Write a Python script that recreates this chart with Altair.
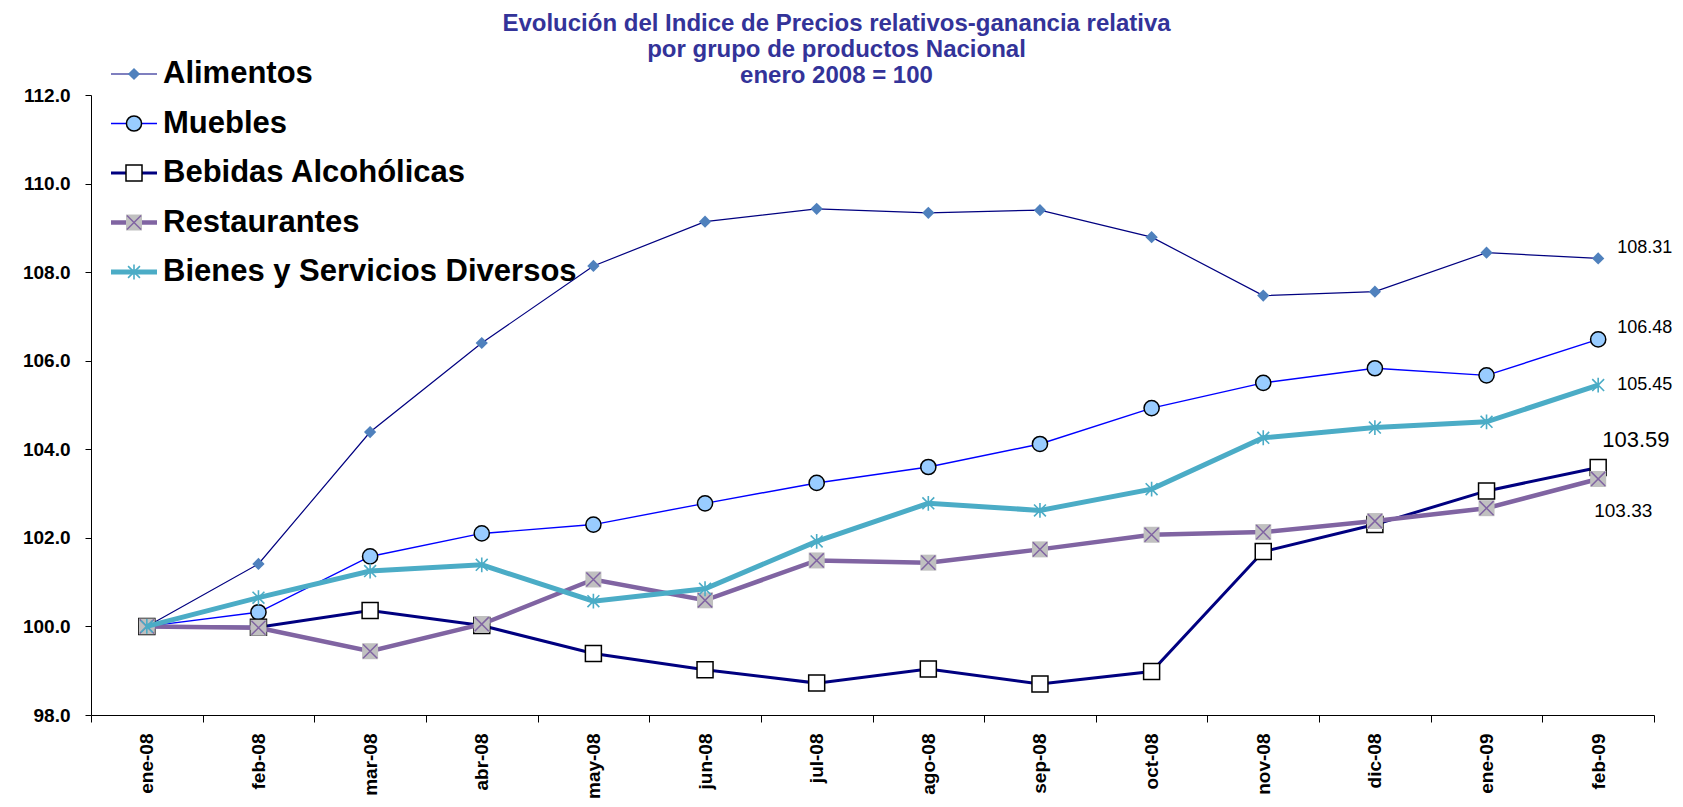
import altair as alt
import pandas as pd

months = ["ene-08", "feb-08", "mar-08", "abr-08", "may-08", "jun-08", "jul-08",
          "ago-08", "sep-08", "oct-08", "nov-08", "dic-08", "ene-09", "feb-09"]
series_names = ["Alimentos", "Muebles", "Bebidas Alcohólicas", "Restaurantes",
                "Bienes y Servicios Diversos"]

alimentos = [100.0, 101.41, 104.39, 106.40, 108.14, 109.14, 109.43, 109.34, 109.40,
             108.79, 107.47, 107.56, 108.44, 108.31]
muebles = [100.0, 100.32, 101.58, 102.10, 102.30, 102.78, 103.24, 103.60, 104.12,
           104.93, 105.50, 105.83, 105.67, 106.48]
bebidas = [100.0, 99.98, 100.36, 100.02, 99.39, 99.02, 98.72, 99.04, 98.70,
           98.98, 101.69, 102.30, 103.06, 103.59]
restaurantes = [100.0, 99.97, 99.44, 100.05, 101.06, 100.59, 101.49, 101.44, 101.74,
                102.07, 102.13, 102.38, 102.67, 103.33]
bienes = [100.0, 100.65, 101.25, 101.39, 100.57, 100.85, 101.92, 102.78, 102.62,
          103.10, 104.26, 104.49, 104.62, 105.45]

y_ticks = [98, 100, 102, 104, 106, 108, 110, 112]

all_values = [alimentos, muebles, bebidas, restaurantes, bienes]
rows = []
for s, vals in zip(series_names, all_values):
    for m, v in zip(months, vals):
        rows.append({"month": m, "series": s, "value": v})
df = pd.DataFrame(rows)
leg_df = pd.DataFrame({"series": series_names})

FONT = "Liberation Sans"
ASTER = "M0,-1L0,1M-0.8,-0.8L0.8,0.8M-0.8,0.8L0.8,-0.8"
XMARK = "M-1,-1L1,1M-1,1L1,-1"

styles = {
    "Alimentos": dict(line="#000080", lw=1.2,
                      marks=[dict(shape="diamond", size=150, filled=True, fill="#4F81BD", strokeWidth=0)],
                      lab=dict(dx=19, dy=-10, fs=18)),
    "Muebles": dict(line="#0000FF", lw=1.4,
                    marks=[dict(shape="circle", size=230, filled=True, fill="#99CCFF", stroke="black", strokeWidth=1.5)],
                    lab=dict(dx=19, dy=-11, fs=18)),
    "Bebidas Alcohólicas": dict(line="#000080", lw=3,
                                marks=[dict(shape="square", size=256, filled=True, fill="white", stroke="black", strokeWidth=1.5)],
                                lab=dict(dx=4, dy=-27, fs=22)),
    "Restaurantes": dict(line="#8064A2", lw=4.5,
                         marks=[dict(shape="square", size=256, filled=True, fill="#C0C0C0", strokeWidth=0),
                                dict(shape=XMARK, size=200, filled=False, stroke="#8064A2", strokeWidth=1.5)],
                         lab=dict(dx=-4, dy=32, fs=19)),
    "Bienes y Servicios Diversos": dict(line="#4BACC6", lw=5,
                                        marks=[dict(shape=ASTER, size=220, filled=False, stroke="#4BACC6", strokeWidth=1.6)],
                                        lab=dict(dx=19, dy=0, fs=18)),
}

X = alt.X("month:N", sort=months, bandPosition=0.5,
          scale=alt.Scale(type="band", domain=months, paddingInner=0, paddingOuter=0),
          axis=alt.Axis(title=None, labelAngle=270, tickBand="extent", tickSize=7,
                        labelPadding=11, labelFontSize=19, labelFontWeight="bold",
                        labelFont=FONT, labelColor="black", domainColor="black",
                        tickColor="black", grid=False))
Y = alt.Y("value:Q",
          scale=alt.Scale(domain=[98, 112], nice=False, zero=False),
          axis=alt.Axis(title=None, values=y_ticks, format=".1f", tickSize=6,
                        labelPadding=15, labelFontSize=19, labelFontWeight="bold",
                        labelFont=FONT, labelColor="black", domainColor="black",
                        tickColor="black", grid=False))

base = alt.Chart(df)
data_layers = []
for s in series_names:
    st = styles[s]
    sub = base.transform_filter(alt.datum.series == s)
    data_layers.append(sub.mark_line(color=st["line"], strokeWidth=st["lw"]).encode(x=X, y=Y))
    for mk in st["marks"]:
        data_layers.append(sub.mark_point(opacity=1, **mk).encode(x=X, y=Y))
for s in series_names:
    lab = styles[s]["lab"]
    data_layers.append(
        base.transform_filter((alt.datum.series == s) & (alt.datum.month == months[-1]))
        .mark_text(align="left", baseline="middle", dx=lab["dx"], dy=lab["dy"],
                   fontSize=lab["fs"], font=FONT, color="black")
        .encode(x=X, y=Y, text=alt.Text("value:Q", format=".2f"))
    )
main = alt.layer(*data_layers)

LY = alt.Y("series:N", sort=series_names, axis=None,
           scale=alt.Scale(type="point", domain=series_names, range=[-21, 177], padding=0))
leg_base = alt.Chart(leg_df)
legend_layers = []
for s in series_names:
    st = styles[s]
    sub = leg_base.transform_filter(alt.datum.series == s)
    legend_layers.append(sub.mark_rule(color=st["line"], strokeWidth=st["lw"])
                         .encode(x=alt.value(20), x2=alt.value(66), y=LY))
    for mk in st["marks"]:
        legend_layers.append(sub.mark_point(opacity=1, **mk).encode(x=alt.value(43), y=LY))
legend_layers.append(
    leg_base.mark_text(align="left", baseline="middle", fontSize=31, fontWeight="bold",
                       font=FONT, color="black")
    .encode(x=alt.value(72), y=LY, text="series:N")
)
legend = alt.layer(*legend_layers)

chart = (
    alt.layer(main, legend)
    .resolve_scale(y="independent")
    .properties(
        width=1563, height=620,
        autosize=alt.AutoSizeParams(type="none"),
        padding={"left": 83, "top": 87, "right": 20, "bottom": 84},
        title=alt.TitleParams(
            ["Evolución del Indice de Precios relativos-ganancia relativa",
             "por grupo de productos Nacional", "enero 2008 = 100"],
            fontSize=24, fontWeight="bold", color="#333399", font=FONT,
            anchor="middle", frame="group", dx=-36, dy=42, offset=12, lineHeight=26),
    )
    .configure_view(stroke=None)
)

chart.save("out.html", embed_options={"renderer": "svg", "actions": False})
